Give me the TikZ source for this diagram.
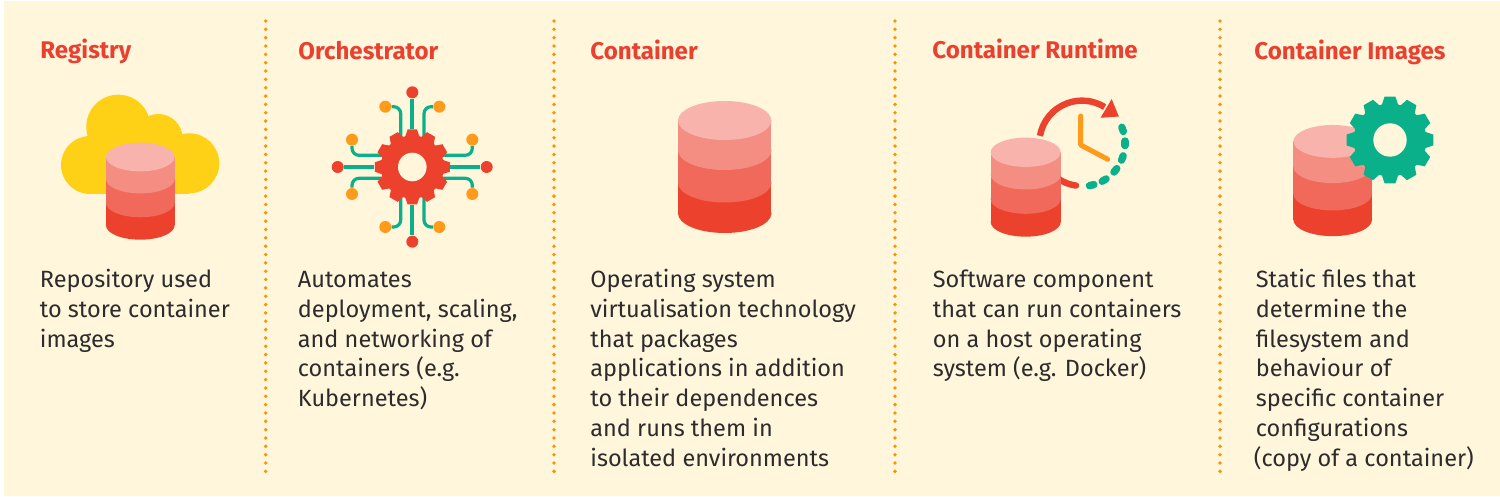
\documentclass[tikz,border=0pt]{standalone}
\usepackage{fontspec}
\setmainfont{Fira Sans}
\definecolor{bgc}{HTML}{FFF6DC}
\definecolor{lay1}{HTML}{F8B3AD}
\definecolor{lay2}{HTML}{F58E82}
\definecolor{lay3}{HTML}{F0695A}
\definecolor{lay4}{HTML}{EC412D}
\definecolor{cloudc}{HTML}{FFD116}
\definecolor{greenc}{HTML}{0AB08A}
\definecolor{orangec}{HTML}{FF9A1A}
\definecolor{dotc}{HTML}{FF9200}
\definecolor{headc}{HTML}{EA4030}
\definecolor{textc}{HTML}{2C2C2C}
\newcommand{\fl}{\rule{0pt}{10pt}}
\newcommand{\drumicon}[3]{%
  \begin{scope}[shift={(#1,#2)},scale=#3]
    \fill[lay4] (-46.7,62.5) rectangle (46.7,93); \fill[lay4] (0,93) ellipse [x radius=46.7,y radius=19.5];
    \fill[lay3] (-46.7,30) rectangle (46.7,62.5); \fill[lay3] (0,62.5) ellipse [x radius=46.7,y radius=19.5];
    \fill[lay2] (-46.7,0) rectangle (46.7,30); \fill[lay2] (0,30) ellipse [x radius=46.7,y radius=19.5];
    \fill[lay1] (0,0) ellipse [x radius=46.7,y radius=19.5];
  \end{scope}}
\newcommand{\gearicon}[5]{%
  \begin{scope}[shift={(#1,#2)}]
    \fill[#5] (0,0) circle [radius=0.84*#3];
    \foreach \a in {0,30,...,330}{
      \fill[#5,rotate=\a] (-0.2*#3,0.78*#3) -- (-0.125*#3,#3) -- (0.125*#3,#3) -- (0.2*#3,0.78*#3) -- cycle;}
    \fill[bgc] (0,0) circle [radius=#4];
  \end{scope}}
\tikzset{
  head/.style={anchor=base west,inner sep=0pt,text=headc,font=\fontsize{12.05}{14}\selectfont\bfseries},
  body/.style={anchor=north west,inner sep=0pt,text=textc,align=left,font=\fontsize{11.75}{14.85}\selectfont},
  divider/.style={dotc,line width=1.9pt,line cap=round,dash pattern=on 0pt off 4.17pt},
  link/.style={greenc,line width=1.6pt,rounded corners=3.5pt},
  mainlink/.style={greenc,line width=2.1pt},
  reddot/.style={circle,fill=lay4,minimum size=6pt,inner sep=0pt},
  orangedot/.style={circle,fill=orangec,minimum size=6pt,inner sep=0pt},
  gearhub/.style={circle,minimum size=37.5pt,inner sep=0pt},
  cyc/.style={lay4,line width=3.2pt},
  tick/.style={greenc,line width=3.7pt,line cap=round},
}
\begin{document}
\begin{tikzpicture}[x=0.5pt,y=-0.5pt]
\useasboundingbox (0,0) rectangle (1500,497);
\fill[white] (0,0) rectangle (1500,497);
\fill[bgc] (4,1) rectangle (1500,496);
% dividers
\coordinate (d1a) at (265.7,21); \coordinate (d1b) at (265.7,472);
\coordinate (d2a) at (554,21);   \coordinate (d2b) at (554,472);
\coordinate (d3a) at (895,21);   \coordinate (d3b) at (895,472);
\coordinate (d4a) at (1220,21);  \coordinate (d4b) at (1220,472);
\draw[divider] (d1a) -- (d1b);
\draw[divider] (d2a) -- (d2b);
\draw[divider] (d3a) -- (d3b);
\draw[divider] (d4a) -- (d4b);
% headings
\node[head] (h1) at (40,58.5) {Registry};
\node[head] (h2) at (298,59.5) {Orchestrator};
\node[head] (h3) at (590,59.5) {Container};
\node[head] (h4) at (932,58.5) {Container Runtime};
\node[head] (h5) at (1254,59.5) {Container Images};
% body
\node[body] (b1) at (39.5,267.5) {\fl Repository used\\to store container\\images};
\node[body] (b2) at (297.5,267.5) {\fl Automates\\deployment, scaling,\\and networking of\\containers (e.g.\\Kubernetes)};
\node[body] (b3) at (590,267.5) {\fl Operating system\\virtualisation technology\\that packages\\applications in addition\\to their dependences\\and runs them in\\isolated environments};
\node[body] (b4) at (932.5,267.5) {\fl Software component\\that can run containers\\on a host operating\\system (e.g. Docker)};
\node[body] (b5) at (1255.5,267.5) {\fl Static files that\\determine the\\filesystem and\\behaviour of\\specific container\\configurations\\\hspace*{-1pt}(copy of a container)};
% registry icon
\fill[cloudc] (118.3,126.7) circle [radius=32];
\fill[cloudc] (158.3,138.3) circle [radius=24.3];
\fill[cloudc] (90,165) circle [radius=29];
\fill[cloudc] (189.3,163.3) circle [radius=30];
\fill[cloudc] (90,137) rectangle (189.3,193.6);
\drumicon{140.3}{157}{0.735}
% orchestrator icon
\node[reddot] (rt) at (412.3,92.3) {};
\node[reddot] (rb) at (412.3,241.7) {};
\node[reddot] (rl) at (337.7,167) {};
\node[reddot] (rr) at (486.7,167) {};
\node[orangedot] (o1) at (385.3,106.7) {};
\node[orangedot] (o2) at (439.3,106.7) {};
\node[orangedot] (o3) at (352,139.7) {};
\node[orangedot] (o4) at (472.3,139.7) {};
\node[orangedot] (o5) at (352,194) {};
\node[orangedot] (o6) at (472.3,194) {};
\node[orangedot] (o7) at (385.3,227) {};
\node[orangedot] (o8) at (439.3,227) {};
\node[gearhub] (hub) at (412.3,167) {};
\coordinate (g1) at (400.7,145); \coordinate (g2) at (424,145);
\coordinate (g3) at (390,155.3); \coordinate (g4) at (434,155.3);
\coordinate (g5) at (390,178.3); \coordinate (g6) at (434,178.3);
\coordinate (g7) at (400.7,190); \coordinate (g8) at (424,190);
\draw[mainlink] (rt) -- (hub.north);
\draw[mainlink] (rb) -- (hub.south);
\draw[mainlink] (rl) -- (hub.west);
\draw[mainlink] (rr) -- (hub.east);
\draw[link] (o1.east) -| (g1);
\draw[link] (o2.west) -| (g2);
\draw[link] (o3.south) |- (g3);
\draw[link] (o4.south) |- (g4);
\draw[link] (o5.north) |- (g5);
\draw[link] (o6.north) |- (g6);
\draw[link] (o7.east) -| (g7);
\draw[link] (o8.west) -| (g8);
\gearicon{412.3}{167}{37.5}{14.3}{lay4}
% container icon
\drumicon{724.7}{120.5}{1}
% runtime icon
\coordinate (ck) at (1082,143.3);
\draw[cyc] ([shift={(190:42.7)}]ck) arc [start angle=190,end angle=302,radius=42.7];
\fill[lay4] (1111.7,99) -- (1118.8,116.5) -- (1100.5,117.8) -- cycle;
\draw[cyc,line cap=round] ([shift={(135:42.7)}]ck) arc [start angle=135,end angle=98,radius=42.7];
\foreach \a in {19,0,-20,-39,-59,-77}{
  \draw[tick] ([shift={(-\a+3:43)}]ck) arc [start angle=-\a+3,end angle=-\a-3,radius=43];}
\draw[orangec,line width=2.5pt,line cap=round,line join=round] (1080.7,116) -- (1080.7,145) -- (1107.7,159.3);
\drumicon{1025.7}{152.3}{0.75}
% images icon
\drumicon{1332.7}{141.4}{0.842}
\gearicon{1390}{140}{43.3}{16.7}{greenc}
\end{tikzpicture}
\end{document}
